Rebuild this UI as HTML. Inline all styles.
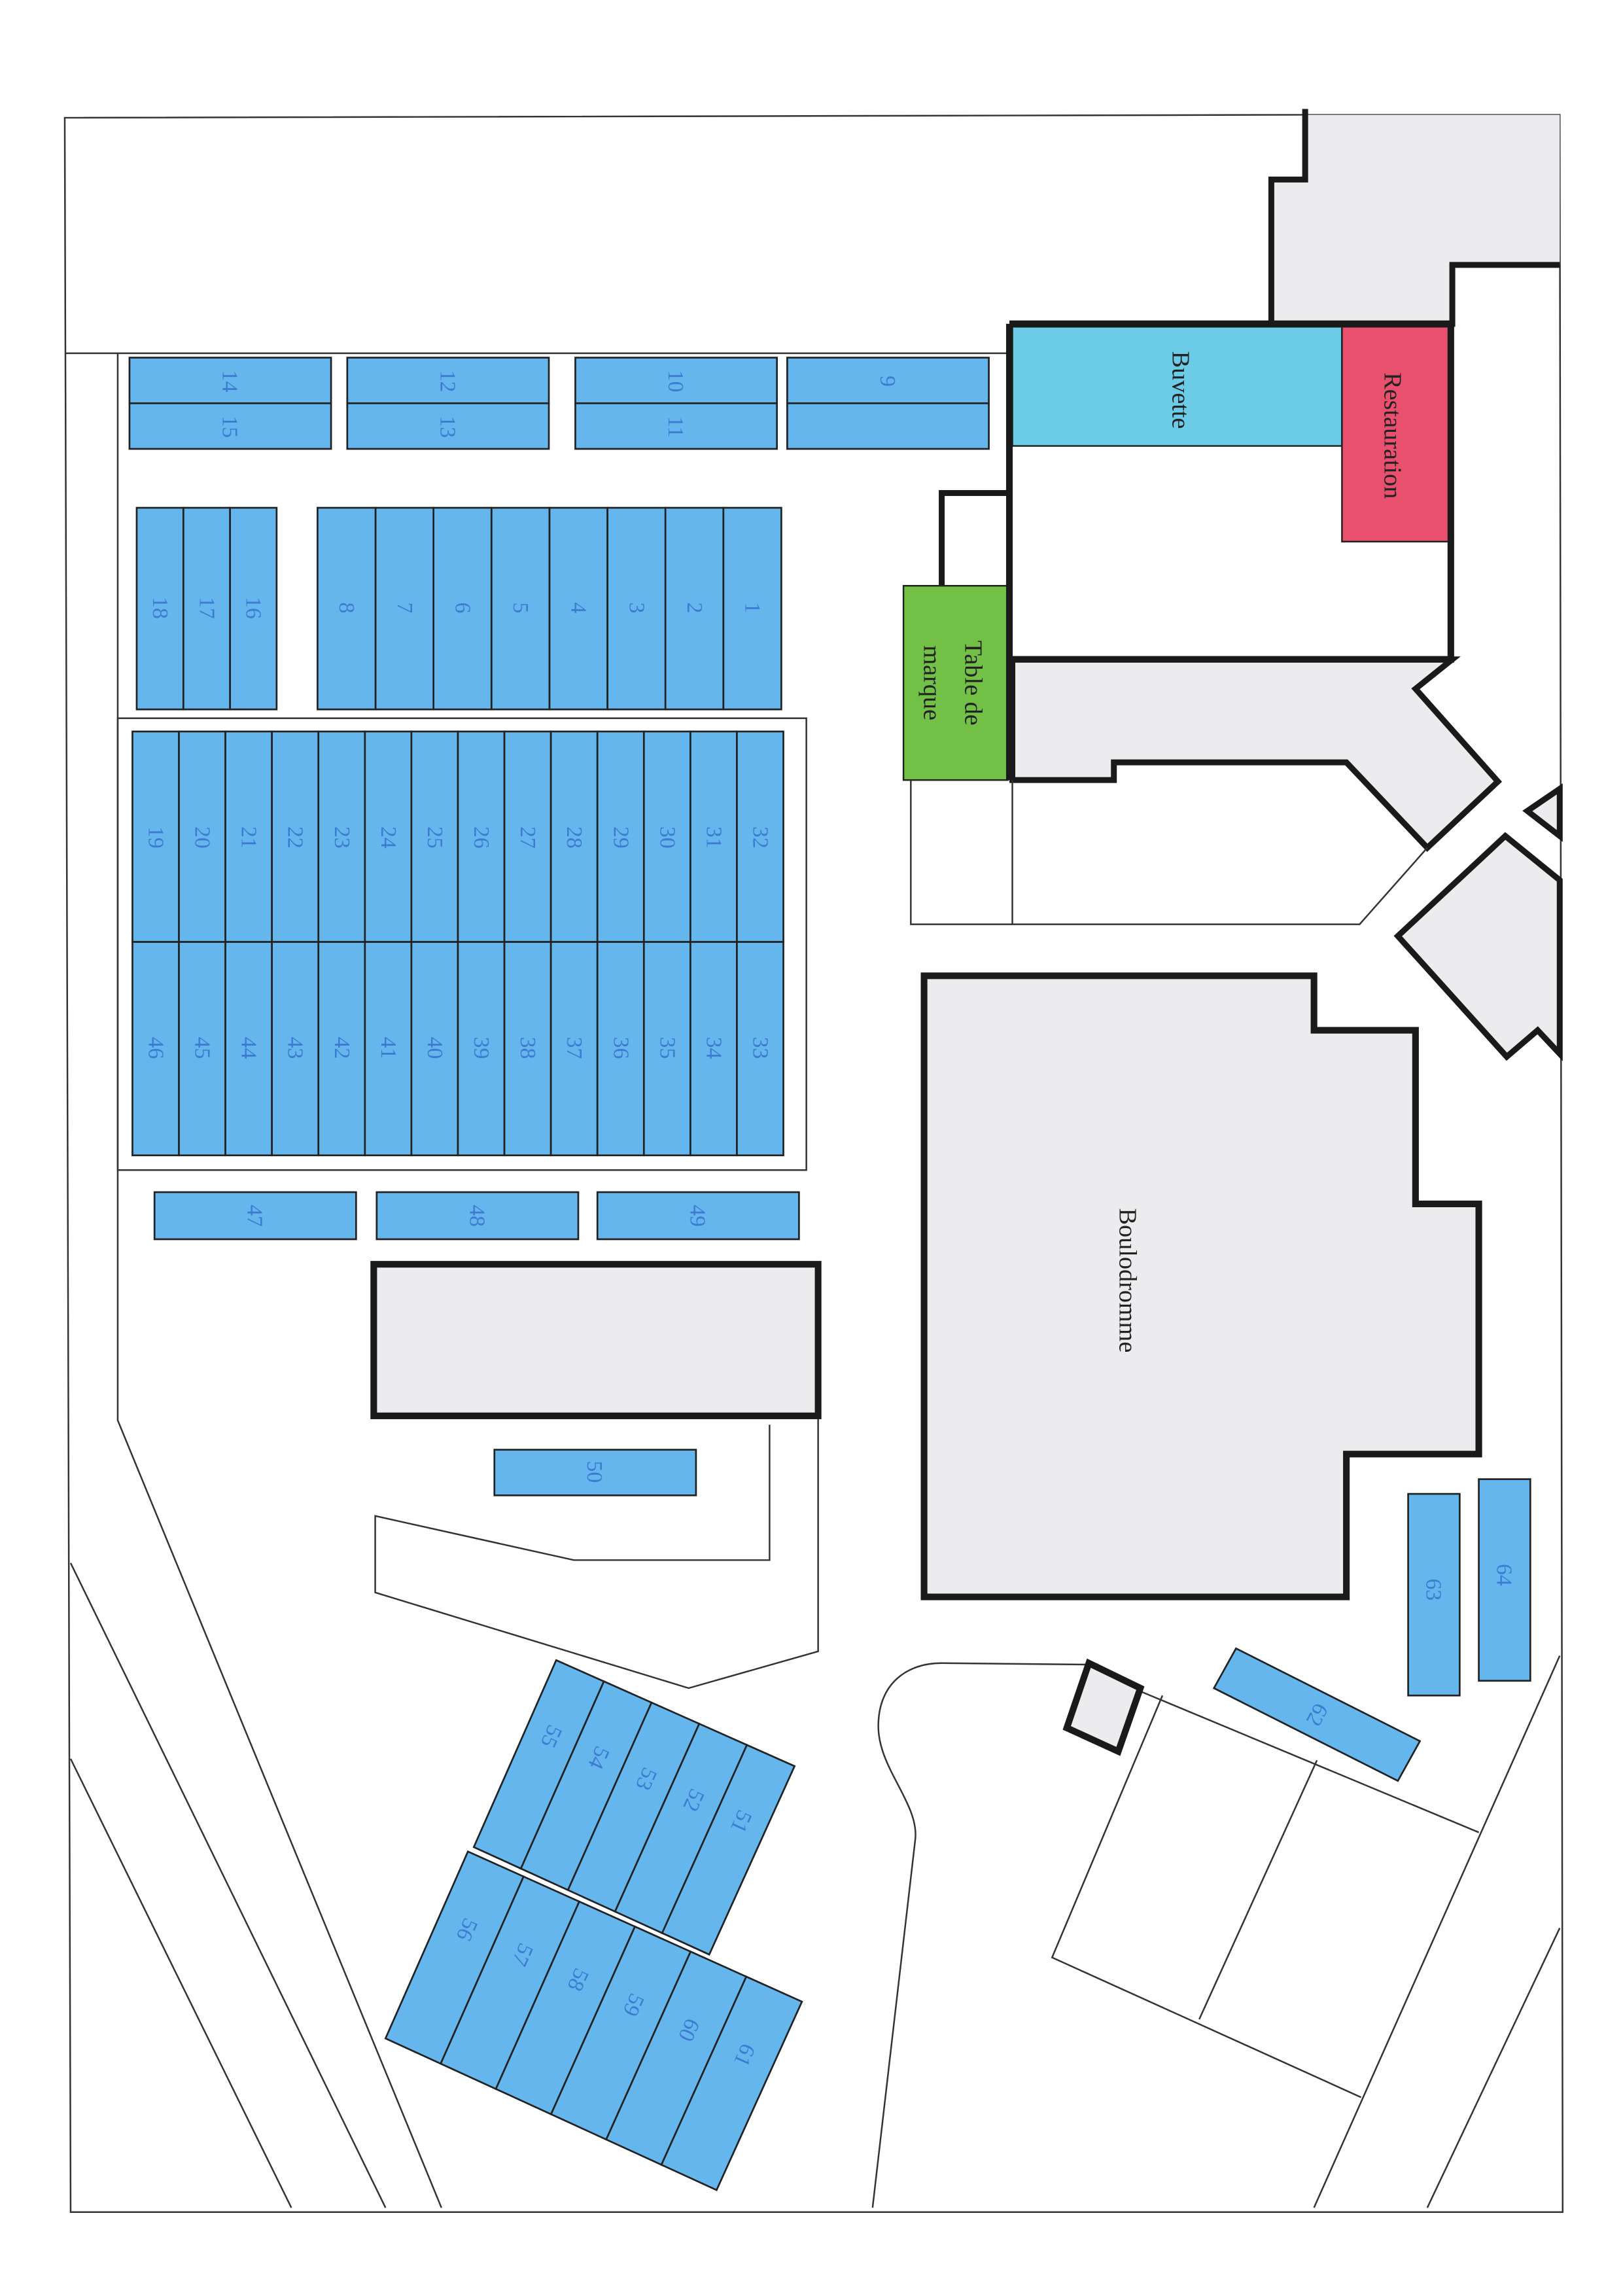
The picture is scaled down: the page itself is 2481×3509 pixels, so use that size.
<!DOCTYPE html>
<html><head><meta charset="utf-8"><style>
html,body{margin:0;padding:0;background:#fff}
svg{display:block}
text{font-family:"Liberation Serif",serif}
</style></head><body>
<svg id="s" width="2481" height="3509" viewBox="0 0 1103 1560" preserveAspectRatio="none" xmlns="http://www.w3.org/2000/svg">
<g fill="none" stroke="#333" stroke-width="1.1">
<!-- outer frame -->
<polyline points="887,78 44,80 48,1503 1062,1503 1060,78 887,78"/>
<!-- gray top right -->
<polygon points="887,78 1060,78 1060,180 987,180 987,218 864,218 864,120 887,120" fill="#ececee" stroke="none"/>
<polyline points="887,74 887,122 864,122 864,220" stroke="#1a1a1a" stroke-width="4"/>
<polyline points="987,222 987,180 1060,180" stroke="#1a1a1a" stroke-width="4"/>
<!-- inner lines -->
<line x1="44" y1="240" x2="686" y2="240"/>
<polyline points="80,240 80,965 300,1500"/>
<line x1="48" y1="1062" x2="262" y2="1500"/>
<line x1="48" y1="1195" x2="198" y2="1500"/>
<rect x="80" y="488" width="468" height="307"/>
<!-- Building -->
<rect x="688" y="222" width="224" height="81" fill="#6ccbe6" stroke="#222"/>
<rect x="912" y="222" width="73" height="146" fill="#e9506e" stroke="#222"/>
<polyline points="640,398 640,335 686,335" stroke="#1a1a1a" stroke-width="4"/>
<rect x="614" y="398" width="71" height="132" fill="#72c046" stroke="#222"/>
<polygon points="688,448 987,448 962,468 1018,531 970,576 915,518 757,518 757,530 688,530" fill="#ececee" stroke="#1a1a1a" stroke-width="4"/>
<polyline points="686,220 986,220 986,448 686,448 686,220 686,530" stroke="#1a1a1a" stroke-width="4.5"/>
<polyline points="619,530 619,628 924,628 970,576"/>
<line x1="688" y1="530" x2="688" y2="628"/>
<polygon points="950,636 1023,568 1060,598 1060,716 1045,700 1024,718" fill="#ececee" stroke="#1a1a1a" stroke-width="4"/>
<polygon points="1038,551 1060,536 1060,568" fill="#ececee" stroke="#1a1a1a" stroke-width="4"/>
<!-- Boulodromme -->
<polygon points="628,663 893,663 893,700 962,700 962,818 1005,818 1005,988 915,988 915,1085 628,1085" fill="#ececee" stroke="#1a1a1a" stroke-width="4.5"/>
<!-- thick rect -->
<rect x="254" y="859" width="302" height="103" fill="#ececee" stroke="#1a1a1a" stroke-width="4.5"/>
<polyline points="523,968 523,1060 390,1060 255,1030 255,1082 468,1147 556,1122 556,964"/>
<!-- road/courts -->
<path d="M593,1500 L622,1250 C625,1225 595,1200 597,1170 C598,1145 615,1130 640,1130 L740,1131"/>
<polyline points="765,1145 1005,1245"/>
<polyline points="790,1152 715,1330 925,1425"/>
<line x1="895" y1="1196" x2="815" y2="1372"/>
<line x1="1060" y1="1125" x2="893" y2="1500"/>
<line x1="1060" y1="1310" x2="970" y2="1500"/>
<polygon points="740,1130 775,1147 760,1190 725,1174" fill="#ececee" stroke="#1a1a1a" stroke-width="4.5"/>
</g>
<g id="st" fill="#66b6ee" stroke="#222" stroke-width="1.2"></g>
<g id="tx" fill="#3d7bd0" font-size="15"></g>
<g fill="#222" font-size="17">
<text transform="translate(797,265) rotate(90)" text-anchor="middle">Buvette</text>
<text transform="translate(941,296) rotate(90)" text-anchor="middle">Restauration</text>
<text transform="translate(656,464) rotate(90)" text-anchor="middle">Table de</text>
<text transform="translate(628,464) rotate(90)" text-anchor="middle">marque</text>
<text transform="translate(761,870) rotate(90)" text-anchor="middle">Boulodromme</text>
</g>
</svg>
<script>
var st=document.getElementById('st'),tx=document.getElementById('tx'),NS='http://www.w3.org/2000/svg';
function R(x,y,w,h){var r=document.createElementNS(NS,'rect');r.setAttribute('x',x);r.setAttribute('y',y);r.setAttribute('width',w);r.setAttribute('height',h);st.appendChild(r);}
function P(pts){var r=document.createElementNS(NS,'polygon');r.setAttribute('points',pts.map(function(p){return p.join(',')}).join(' '));st.appendChild(r);}
function T(x,y,s,a){var t=document.createElementNS(NS,'text');t.setAttribute('transform','translate('+x+','+y+') rotate('+(a||90)+')');t.setAttribute('text-anchor','middle');t.setAttribute('dominant-baseline','central');t.textContent=s;tx.appendChild(t);}
// top row
[[88,'14','15'],[236,'12','13'],[391,'10','11'],[535,'9',null]].forEach(function(b){
 R(b[0],243,137,31);R(b[0],274,137,31);T(b[0]+68,259,b[1]);if(b[2])T(b[0]+68,290,b[2]);});
// 1-8
var w=39.4;for(var i=0;i<8;i++){var x=531-w*(i+1);R(x,345,w,137);T(x+w/2,413,''+(i+1));}
// 16-18
w=31.7;for(i=0;i<3;i++){x=188-w*(i+1);R(x,345,w,137);T(x+w/2,413,''+(16+i));}
// 19-46
w=31.6;for(i=0;i<14;i++){x=90+w*i;R(x,497,w,143);T(x+w/2,569,''+(19+i));R(x,640,w,145);T(x+w/2,712,''+(46-i));}
// 47-49,50
[[105,'47'],[256,'48'],[406,'49']].forEach(function(b){R(b[0],810,137,32);T(b[0]+68,826,b[1]);});
R(336,985,137,31);T(404,1000,'50');
R(957,1015,35,137);T(974,1080,'63');R(1005,1005,35,137);T(1022,1070,'64');
P([[840,1120],[965,1183],[950,1210],[825,1147]]);T(895,1165,'62',118);
// angled groups
function G(a,b,c,d,n,start,dir){// a top-left,b top-right,c bottom-right,d bottom-left
 for(var k=0;k<n;k++){var t0=k/n,t1=(k+1)/n;
  function L(p,q,t){return [p[0]+(q[0]-p[0])*t,p[1]+(q[1]-p[1])*t];}
  var p1=L(a,b,t0),p2=L(a,b,t1),p3=L(d,c,t1),p4=L(d,c,t0);P([p1,p2,p3,p4]);
  var cx=(p1[0]+p2[0]+p3[0]+p4[0])/4,cy=(p1[1]+p2[1]+p3[1]+p4[1])/4;
  var tp=L(p1,p4,0.35),tq=L(p2,p3,0.35);
  T((tp[0]+tq[0])/2,(tp[1]+tq[1])/2,''+(start+dir*k),114);}}
G([378,1128],[540,1200],[482,1328],[322,1255],5,55,-1);
G([318,1258],[545,1360],[487,1488],[262,1385],6,56,1);
</script>
</body></html>
